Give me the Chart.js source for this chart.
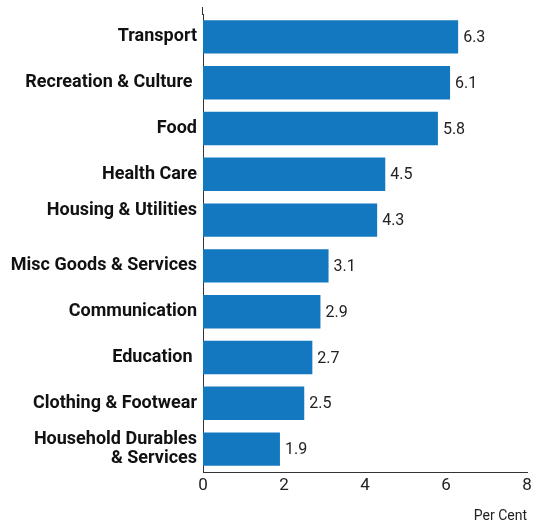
<!DOCTYPE html>
<html>
<head>
<meta charset="utf-8">
<script src="https://cdn.jsdelivr.net/npm/chart.js@4/dist/chart.umd.min.js"></script>
<style>
    html, body { margin: 0; padding: 0; background: #fff; }
</style>
</head>
<body>
<canvas id="spend_chart" width="541" height="522"></canvas>
<script>
// categories, top to bottom
const categories = [
    "Transport",
    "Recreation & Culture ",
    "Food",
    "Health Care",
    ["Housing & Utilities", ""],
    "Misc Goods & Services",
    "Communication",
    "Education ",
    "Clothing & Footwear",
    ["Household Durables", "& Services"],
]
const values = [6.3, 6.1, 5.8, 4.5, 4.3, 3.1, 2.9, 2.7, 2.5, 1.9]
const xTicks = [0, 2, 4, 6, 8]
const axisTitle = "Per Cent"

// prints the value just past the end of every bar
const valueLabels = {
    id: "valueLabels",
    afterDatasetsDraw(chart) {
        const ctx = chart.ctx
        const meta = chart.getDatasetMeta(0)
        ctx.save()
        ctx.font = "16px Roboto"
        ctx.fillStyle = "#222"
        ctx.textAlign = "left"
        ctx.textBaseline = "middle"
        meta.data.forEach((bar, i) => {
            ctx.fillText(values[i].toFixed(1), bar.x + 5, bar.y + 1)
        })
        ctx.restore()
    },
}

// the vertical axis line runs a little above the first bar
const axisStub = {
    id: "axisStub",
    afterDraw(chart) {
        const ctx = chart.ctx
        const x = chart.chartArea.left
        ctx.save()
        ctx.strokeStyle = "#333"
        ctx.lineWidth = 1
        ctx.beginPath()
        ctx.moveTo(x - 0.5, 7)
        ctx.lineTo(x - 0.5, chart.chartArea.top + 1)
        ctx.stroke()
        ctx.restore()
    },
}

function main() {
    new Chart(document.getElementById("spend_chart"), {
        type: "bar",
        data: {
            labels: categories,
            datasets: [
                {
                    data: values,
                    backgroundColor: "#1378bf",
                    borderWidth: 0,
                    barPercentage: 0.73,
                    categoryPercentage: 1,
                },
            ],
        },
        options: {
            indexAxis: "y",
            responsive: false,
            animation: false,
            layout: {
                padding: { top: 14, right: 14, left: 0, bottom: 0 },
            },
            scales: {
                x: {
                    min: 0,
                    max: 8,
                    afterBuildTicks: (scale) => {
                        scale.ticks = xTicks.map((v) => ({ value: v }))
                    },
                    afterFit: (scale) => {
                        scale.height = 50
                    },
                    grid: { display: false, drawTicks: false },
                    border: { display: true, color: "#333", width: 1 },
                    ticks: {
                        color: "#222",
                        font: { family: "Roboto", size: 17 },
                        padding: 4,
                    },
                    title: {
                        display: true,
                        text: axisTitle,
                        align: "end",
                        color: "#222",
                        font: { family: "Roboto", size: 14 },
                        padding: { top: 11, bottom: -3 },
                    },
                },
                y: {
                    afterFit: (scale) => {
                        scale.width = 203
                        scale.paddingTop = 0
                        scale.paddingBottom = 0
                    },
                    grid: { display: false, drawTicks: false },
                    border: { display: true, color: "#333", width: 1 },
                    ticks: {
                        color: "#111",
                        font: { family: "Roboto", size: 18, weight: "bold", lineHeight: 1.05 },
                        padding: 6,
                        autoSkip: false,
                    },
                },
            },
            plugins: {
                legend: { display: false },
                tooltip: { enabled: false },
            },
        },
        plugins: [valueLabels, axisStub],
    })
}

document.addEventListener("DOMContentLoaded", main())
</script>
</body>
</html>
